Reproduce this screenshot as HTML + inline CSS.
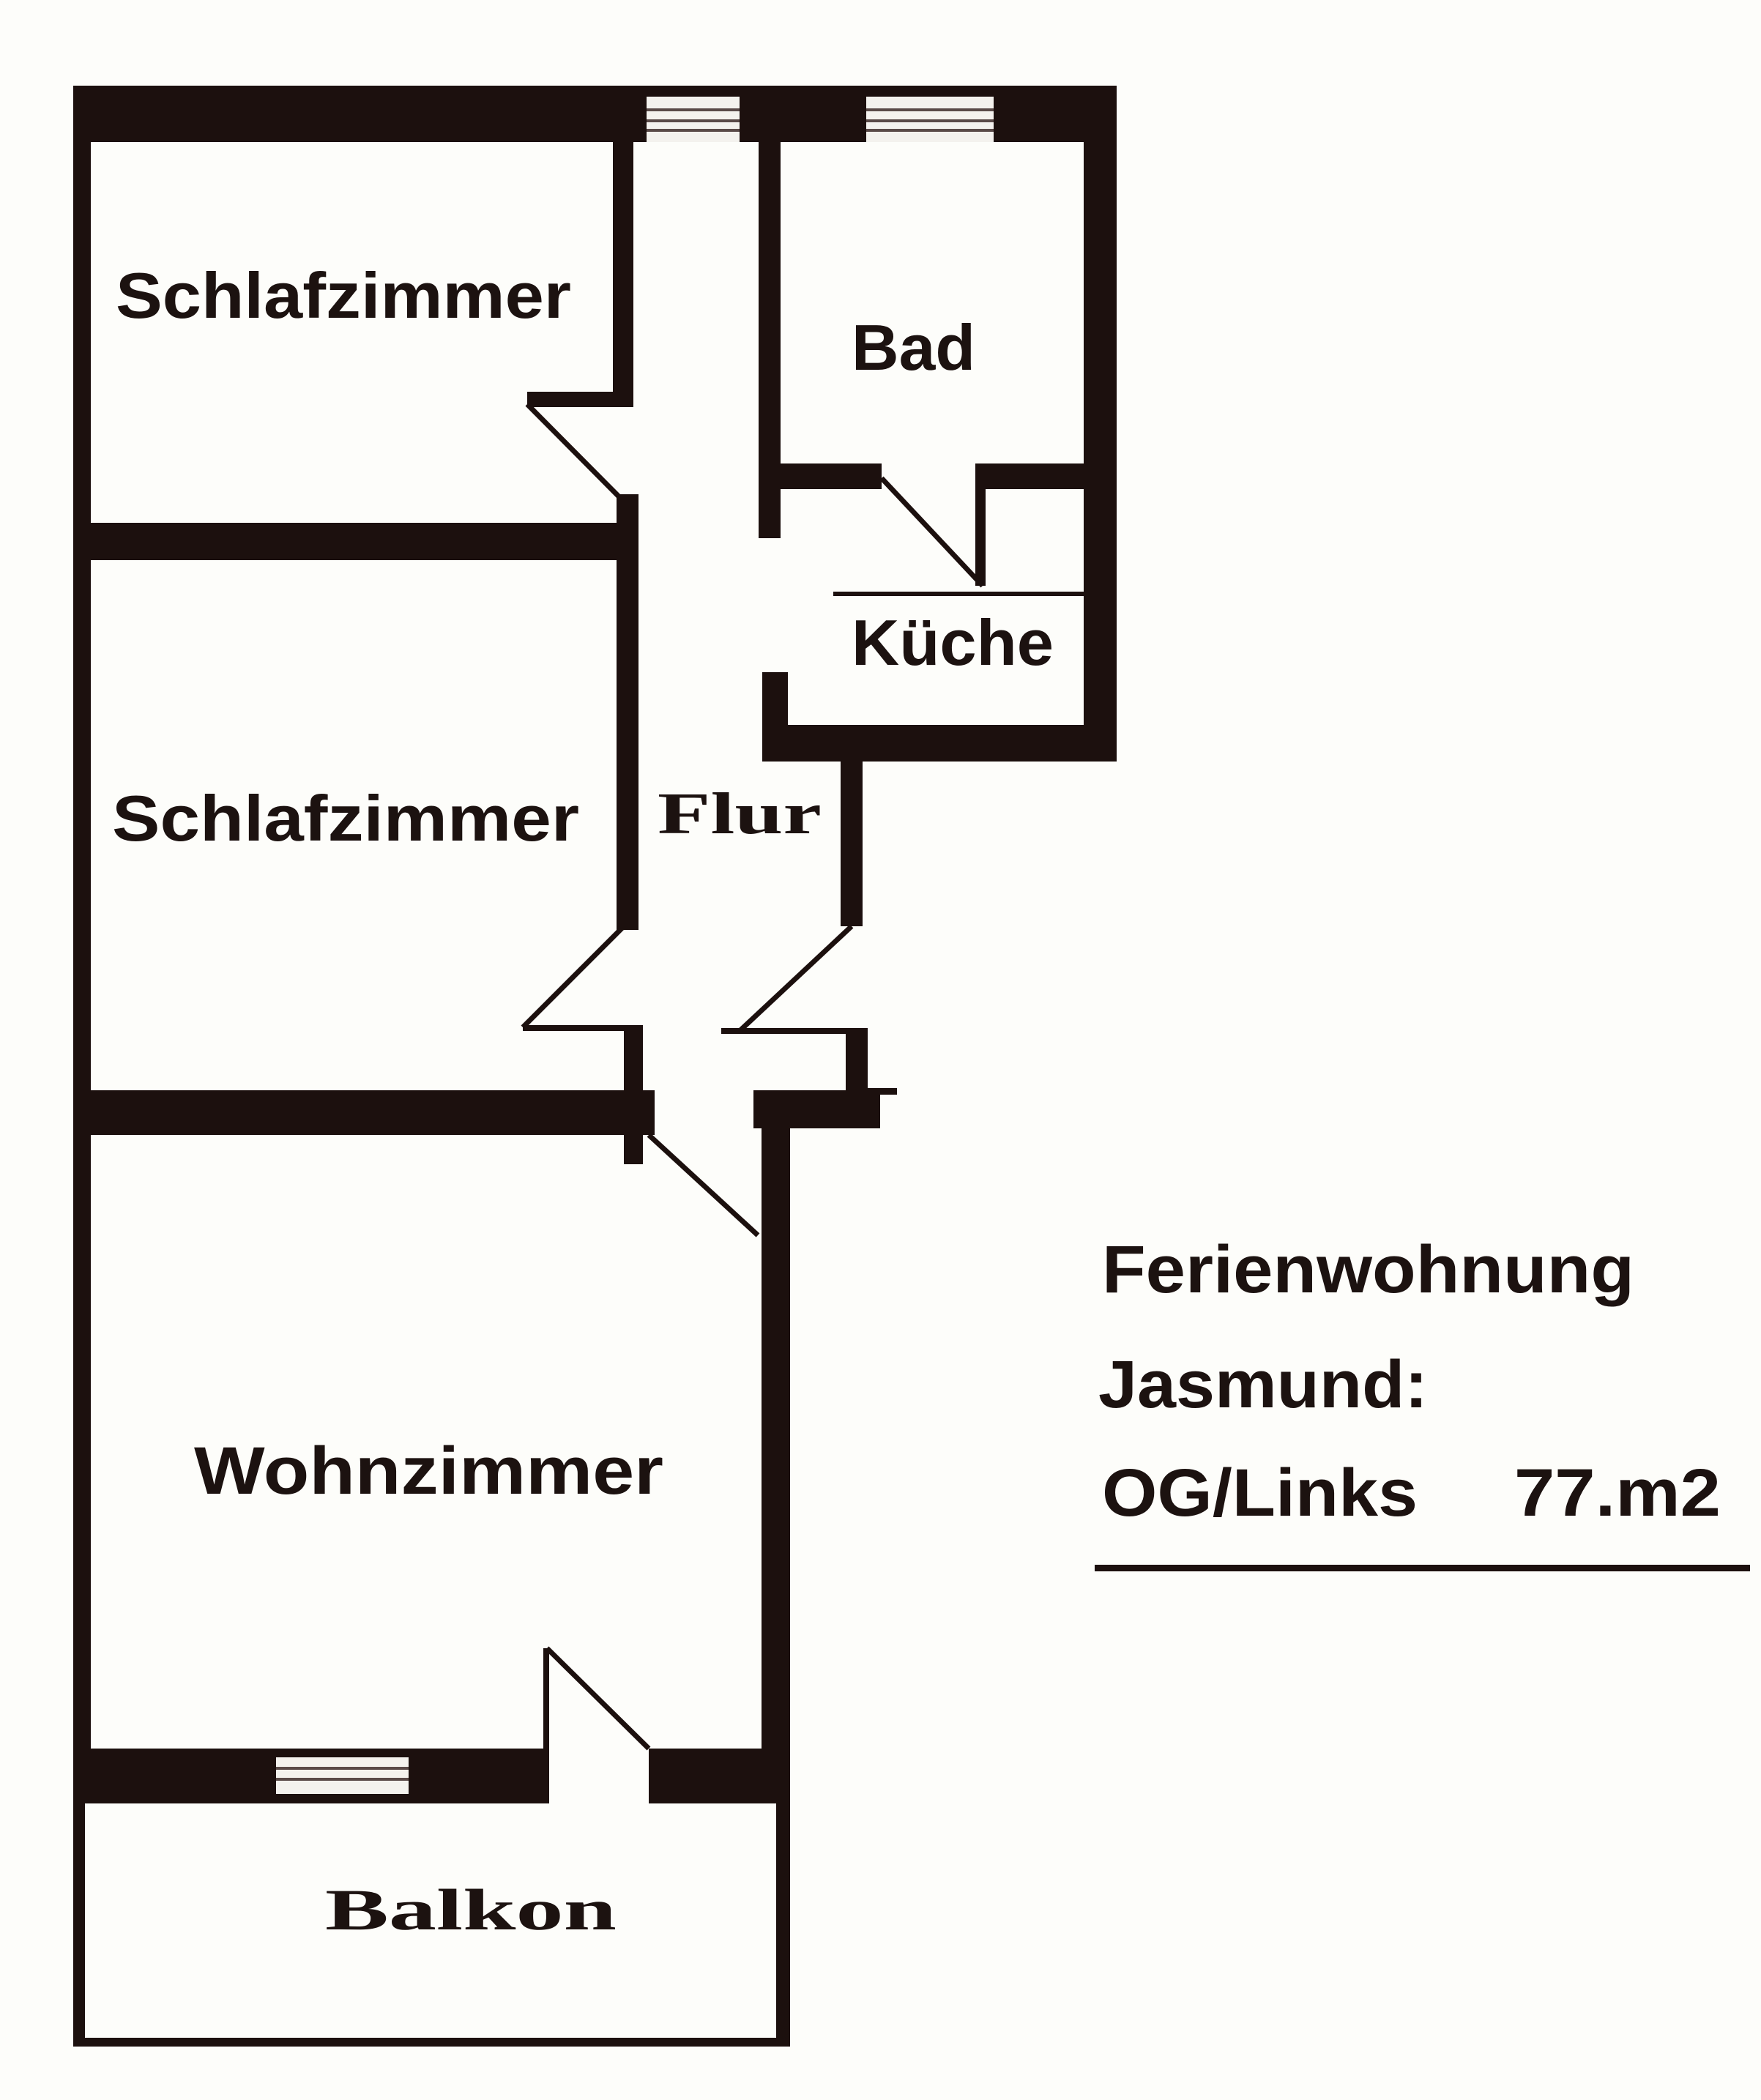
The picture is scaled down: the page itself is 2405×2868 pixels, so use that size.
<!DOCTYPE html>
<html><head><meta charset="utf-8"><style>
html,body{margin:0;padding:0;background:#fdfdfa;}
svg{display:block;}
</style></head><body>
<svg width="2405" height="2868" viewBox="0 0 2405 2868" xmlns="http://www.w3.org/2000/svg">
<rect width="2405" height="2868" fill="#fdfdfa"/>
<g fill="#1c100e">
<rect x="110" y="117" width="1415" height="77"/>
<rect x="100" y="117" width="24" height="2346"/>
<rect x="837" y="194" width="28" height="361"/>
<rect x="720" y="535" width="145" height="21"/>
<rect x="842" y="675" width="30" height="595"/>
<rect x="100" y="714" width="772" height="51"/>
<rect x="1036" y="194" width="30" height="541"/>
<rect x="1480" y="117" width="45" height="923"/>
<rect x="1066" y="633" width="138" height="35"/>
<rect x="1332" y="633" width="158" height="35"/>
<rect x="1332" y="668" width="14" height="132"/>
<rect x="1138" y="808" width="342" height="6"/>
<rect x="1041" y="918" width="35" height="122"/>
<rect x="1041" y="990" width="484" height="50"/>
<rect x="1148" y="1030" width="30" height="235"/>
<rect x="985" y="1404" width="178" height="8"/>
<rect x="1155" y="1404" width="30" height="96"/>
<rect x="1183" y="1486" width="42" height="9"/>
<rect x="714" y="1400" width="138" height="8"/>
<rect x="852" y="1400" width="26" height="190"/>
<rect x="100" y="1489" width="794" height="61"/>
<rect x="1029" y="1489" width="173" height="52"/>
<rect x="1040" y="1489" width="39" height="974"/>
<rect x="1060" y="2463" width="19" height="330"/>
<rect x="100" y="2388" width="650" height="75"/>
<rect x="886" y="2388" width="193" height="75"/>
<rect x="742" y="2251" width="8" height="137"/>
<rect x="100" y="2463" width="16" height="330"/>
<rect x="100" y="2783" width="979" height="12"/>
<rect x="1495" y="2137" width="895" height="9"/>
</g>
<g fill="#f4f2ee">
<rect x="883" y="132" width="127" height="62"/>
<rect x="1183" y="132" width="174" height="62"/>
<rect x="377" y="2400" width="181" height="50"/>
</g>
<g stroke="#5a4a48" stroke-width="4">
<line x1="883" y1="150" x2="1010" y2="150"/><line x1="883" y1="165" x2="1010" y2="165"/><line x1="883" y1="178" x2="1010" y2="178"/>
<line x1="1183" y1="150" x2="1357" y2="150"/><line x1="1183" y1="165" x2="1357" y2="165"/><line x1="1183" y1="178" x2="1357" y2="178"/>
<line x1="377" y1="2415" x2="558" y2="2415"/><line x1="377" y1="2430" x2="558" y2="2430"/>
</g>
<g stroke="#1c100e" stroke-width="7" fill="none">
<line x1="720" y1="552" x2="847" y2="680"/>
<line x1="1204" y1="653" x2="1342" y2="800"/>
<line x1="1163" y1="1265" x2="1010" y2="1408"/>
<line x1="852" y1="1265" x2="714" y2="1403"/>
<line x1="886" y1="1550" x2="1035" y2="1687"/>
<line x1="747" y1="2251" x2="886" y2="2388"/>
</g>
<g font-family="Liberation Sans, sans-serif" font-weight="bold" fill="#1c1210">
<text x="158" y="434" font-size="88" textLength="622" lengthAdjust="spacingAndGlyphs">Schlafzimmer</text>
<text x="1163" y="505" font-size="88" textLength="169" lengthAdjust="spacingAndGlyphs">Bad</text>
<text x="1163" y="908" font-size="88" textLength="276" lengthAdjust="spacingAndGlyphs">Küche</text>
<text x="153" y="1148" font-size="88" textLength="638" lengthAdjust="spacingAndGlyphs">Schlafzimmer</text>
<text x="265" y="2040" font-size="92" textLength="641" lengthAdjust="spacingAndGlyphs">Wohnzimmer</text>
<text x="1505" y="1765" font-size="92" textLength="727" lengthAdjust="spacingAndGlyphs">Ferienwohnung</text>
<text x="1500" y="1922" font-size="92" textLength="450" lengthAdjust="spacingAndGlyphs">Jasmund:</text>
<text x="1505" y="2070" font-size="92" textLength="431" lengthAdjust="spacingAndGlyphs">OG/Links</text>
<text x="2068" y="2070" font-size="92" textLength="282" lengthAdjust="spacingAndGlyphs">77.m2</text>
</g>
<g font-family="Liberation Serif, serif" font-weight="bold" fill="#1c1210">
<text x="898" y="1138" font-size="80" textLength="224" lengthAdjust="spacingAndGlyphs">Flur</text>
<text x="444" y="2635" font-size="80" textLength="398" lengthAdjust="spacingAndGlyphs">Balkon</text>
</g>
</svg>
</body></html>
